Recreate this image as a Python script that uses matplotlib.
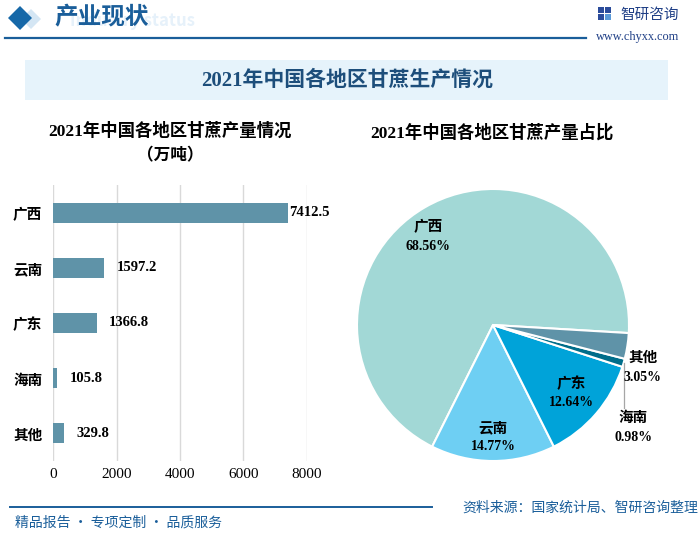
import matplotlib
matplotlib.use("Agg")
import matplotlib.pyplot as plt
from matplotlib.patches import Polygon, Rectangle
import numpy as np

plt.rcParams['font.family'] = ['Noto Sans CJK SC', 'DejaVu Sans']

# ---------------- data ----------------
regions = ["广西", "云南", "广东", "海南", "其他"]
output_wt = [7412.5, 1597.2, 1366.8, 105.8, 329.8]
pie_regions = ["广西", "云南", "广东", "海南", "其他"]
pie_share = [68.56, 14.77, 12.64, 0.98, 3.05]
x_ticks = [0, 2000, 4000, 6000, 8000]

W, H = 700, 537
fig = plt.figure(figsize=(W / 100, H / 100), dpi=100)
fig.patch.set_facecolor("white")

def fx(px):
    return px / W

def fy(py):
    return 1 - py / H

MIX = ['Liberation Serif', 'Noto Sans CJK SC']
BLUE = "#1a5e9a"
BAR = "#5f93a8"

# ---------------- header ----------------
bg = fig.add_axes([0, 0, 1, 1])
bg.set_xlim(0, W)
bg.set_ylim(H, 0)
bg.axis("off")
bg.add_patch(Polygon([[31, 9], [41, 19], [31, 29], [21, 19]], closed=True,
                     facecolor="#d4e6f4", edgecolor="none"))
bg.add_patch(Polygon([[20, 6], [32, 18], [20, 30], [8, 18]], closed=True,
                     facecolor="#1668a8", edgecolor="none"))
bg.text(70, 21, "Industry status", fontsize=12, color="#e6f1fa",
        fontweight="bold", va="center", ha="left", zorder=0)
bg.text(54, 17, "产业现状", fontsize=17, color=BLUE, fontweight="bold",
        va="center", ha="left", zorder=2)
bg.plot([5, 586], [38, 38], color=BLUE, lw=1.6)
# logo
bg.add_patch(Rectangle((598, 7), 6, 6, facecolor="#2b4c9b"))
bg.add_patch(Rectangle((605, 7), 6, 6, facecolor="#2b4c9b"))
bg.add_patch(Rectangle((598, 14), 6, 6, facecolor="#2b4c9b"))
bg.add_patch(Rectangle((605, 14), 6, 6, facecolor="#5a9ad8"))
bg.text(620, 15, "智研咨询", fontsize=10.5, color="#1f3f86", va="center", ha="left")
bg.text(638, 37, "www.chyxx.com", fontsize=8.8, color="#1f3f86", va="center",
        ha="center", family=['Liberation Serif'])

# banner
bg.add_patch(Rectangle((25, 60), 643, 40, facecolor="#e6f3fb", edgecolor="none"))
bg.text(347, 80, "2021年中国各地区甘蔗生产情况", fontsize=15, color="#1d4e7b",
        fontweight="bold", va="center", ha="center", family=MIX)

# footer
bg.plot([10, 432], [507, 507], color=BLUE, lw=1.4)
bg.text(15, 523, "精品报告 · 专项定制 · 品质服务", fontsize=10, color=BLUE,
        va="center", ha="left")
bg.text(698, 508, "资料来源：国家统计局、智研咨询整理", fontsize=10, color=BLUE,
        va="center", ha="right")

# ---------------- bar chart ----------------
ax = fig.add_axes([fx(53.3), fy(461), fx(306.7) - fx(53.3), fy(185) - fy(461)])
y = np.arange(len(regions))
ax.barh(y, output_wt, height=0.36, color=BAR, zorder=3)
ax.set_ylim(len(regions) - 0.5, -0.5)
ax.set_xlim(0, 8000)
ax.set_xticks(x_ticks)
ax.set_xticklabels([str(t) for t in x_ticks], family=['Liberation Serif'], fontsize=11)
ax.set_yticks(y)
ax.set_yticklabels(regions, fontsize=10.5, fontweight="bold")
ax.tick_params(axis="x", length=0, pad=5)
ax.tick_params(axis="y", length=0, pad=8)
ax.grid(axis="x", color="#d9d9d9", lw=1, zorder=0)
for s in ax.spines.values():
    s.set_visible(False)
ax.set_facecolor("none")
for yi, v in zip(y, output_wt):
    ax.text(v + 40 if v > 5000 else v + 400, yi, f"{v:.1f}", va="center", ha="left",
            fontsize=10.5, fontweight="bold", family=MIX)
bg.text(170, 131, "2021年中国各地区甘蔗产量情况", fontsize=12.5, fontweight="bold",
        va="center", ha="center", family=MIX)
bg.text(170, 155, "（万吨）", fontsize=12, fontweight="bold", va="center", ha="center")

# ---------------- pie chart ----------------
cx, cy, r = 493, 325, 136
pax = fig.add_axes([fx(cx - r), fy(cy + r), fx(2 * r), fy(cy - r) - fy(cy + r)])
colors = ["#a2d8d6", "#6ecff3", "#00a3d9", "#006d8a", "#5f93a8"]
wedges, _ = pax.pie(pie_share, colors=colors, startangle=-3.4, counterclock=True,
                    radius=1, wedgeprops=dict(edgecolor="white", linewidth=1.5))
pax.set_xlim(-1, 1)
pax.set_ylim(-1, 1)
pax.set_aspect("equal")
pax.axis("off")

inside = {"广西": (0.81, 6), "云南": (0.82, 0), "广东": (0.76, 0)}
for w, name, pct in zip(wedges, pie_regions, pie_share):
    mid = np.deg2rad((w.theta1 + w.theta2) / 2)
    if name in inside:
        rr, dang = inside[name]
        a = mid + np.deg2rad(dang)
        tx, ty = rr * np.cos(a), rr * np.sin(a)
        pax.text(tx, ty + 0.07, name, ha="center", va="center", fontsize=10.5,
                 fontweight="bold")
        pax.text(tx, ty - 0.075, f"{pct:.2f}%", ha="center", va="center",
                 fontsize=10, fontweight="bold", family=MIX)

# outside labels
pax.text(1.10, -0.235, "其他", ha="center", va="center", fontsize=10.5, fontweight="bold")
pax.text(1.10, -0.385, f"{pie_share[4]:.2f}%", ha="center", va="center",
         fontsize=10, fontweight="bold", family=MIX)
w_hn = wedges[3]
mid = np.deg2rad((w_hn.theta1 + w_hn.theta2) / 2)
ex, ey = np.cos(mid), np.sin(mid)
pax.plot([ex, ex], [ey, -0.61], color="#a6a6a6", lw=0.9, clip_on=False)
pax.text(1.03, -0.68, "海南", ha="center", va="center", fontsize=10.5, fontweight="bold")
pax.text(1.03, -0.825, f"{pie_share[3]:.2f}%", ha="center", va="center",
         fontsize=10, fontweight="bold", family=MIX)

bg.text(492, 133, "2021年中国各地区甘蔗产量占比", fontsize=12.5, fontweight="bold",
        va="center", ha="center", family=MIX)

fig.savefig("out.png", dpi=100)
